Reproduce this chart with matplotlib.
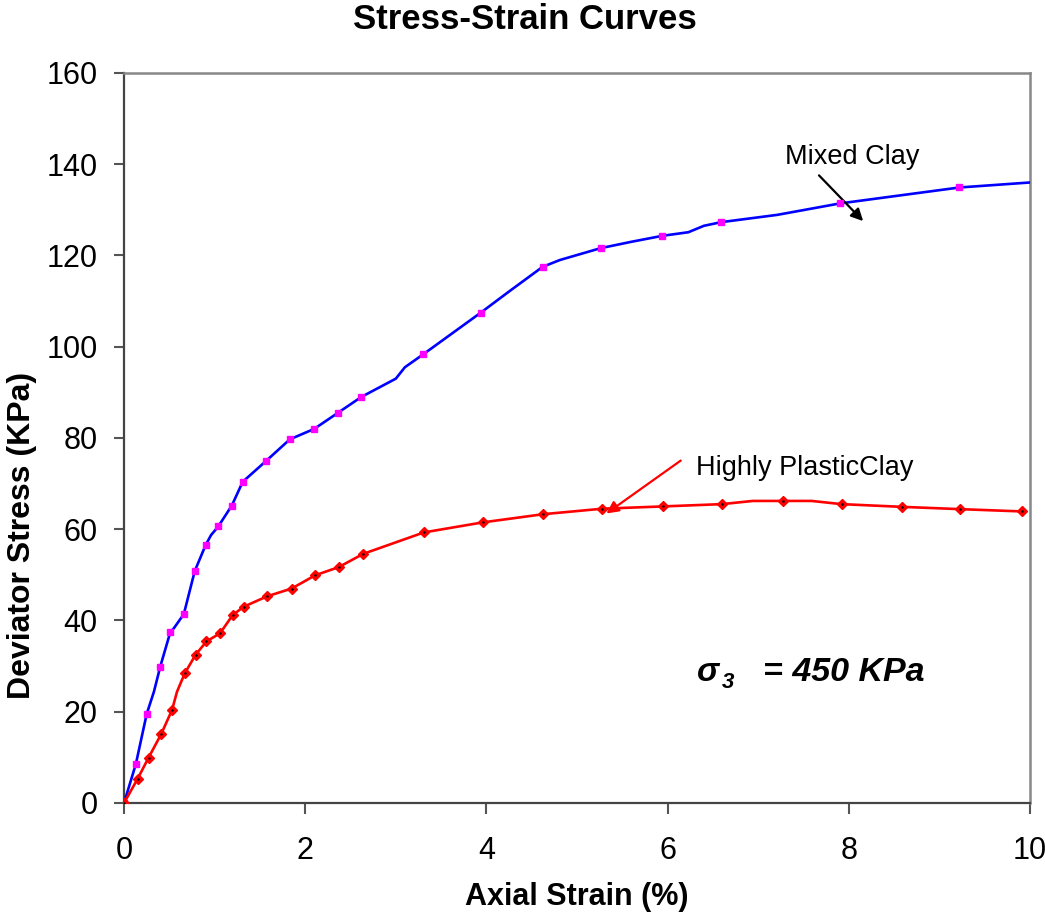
import matplotlib
matplotlib.use("Agg")
import matplotlib.pyplot as plt

plt.rcParams['font.family'] = ['Liberation Sans', 'DejaVu Sans']

# Mixed clay: line vertices and the marked readings
mixed_strain = [0, 0.13, 0.25, 0.33, 0.40, 0.51, 0.55, 0.66, 0.78, 0.90, 0.96, 1.04, 1.19,
                1.31, 1.57, 1.83, 2.10, 2.36, 2.62, 3.0, 3.10, 3.30, 3.94, 4.27, 4.62, 4.81,
                5.26, 5.60, 5.94, 6.23, 6.40, 6.59, 7.21, 7.90, 9.22, 10.0]
mixed_stress = [0, 8.5, 19.5, 24.4, 29.9, 37.4, 38.3, 41.4, 50.8, 56.5, 58.7, 60.6, 65.2,
                70.4, 75.0, 79.7, 82.0, 85.5, 89.0, 93.0, 95.5, 98.3, 107.5, 112.4, 117.5, 119.0,
                121.6, 123.0, 124.3, 125.1, 126.5, 127.3, 128.9, 131.4, 134.9, 136.0]
mixed_mark_strain = [0, 0.13, 0.25, 0.40, 0.51, 0.66, 0.78, 0.90, 1.04, 1.19, 1.31, 1.57,
                     1.83, 2.10, 2.36, 2.62, 3.30, 3.94, 4.62, 5.26, 5.94, 6.59, 7.90, 9.22]
mixed_mark_stress = [0, 8.5, 19.5, 29.9, 37.4, 41.4, 50.8, 56.5, 60.6, 65.2, 70.4, 75.0,
                     79.7, 82.0, 85.5, 89.0, 98.3, 107.5, 117.5, 121.6, 124.3, 127.3, 131.4, 134.9]

# Highly plastic clay
plastic_strain = [0, 0.15, 0.27, 0.41, 0.53, 0.585, 0.67, 0.79, 0.91, 1.06, 1.20, 1.32, 1.58,
                  1.85, 2.11, 2.37, 2.64, 3.31, 3.96, 4.63, 5.28, 5.95, 6.60, 6.94, 7.27,
                  7.59, 7.92, 8.59, 9.23, 9.91]
plastic_stress = [0, 5.3, 9.9, 15.1, 20.4, 24.4, 28.4, 32.5, 35.4, 37.2, 41.2, 43.0, 45.3,
                  47.0, 49.9, 51.7, 54.6, 59.3, 61.5, 63.3, 64.5, 65.0, 65.5, 66.2, 66.2,
                  66.2, 65.5, 64.9, 64.4, 63.9]
plastic_mark_strain = [s for s in plastic_strain if s not in (0.585, 6.94, 7.59)]
plastic_mark_stress = [v for s, v in zip(plastic_strain, plastic_stress) if s not in (0.585, 6.94, 7.59)]

fig = plt.figure(figsize=(10.45, 9.18), dpi=100)
ax = fig.add_axes([0.1187, 0.1253, 0.8669, 0.7952])

ax.plot(mixed_strain, mixed_stress, color='#0000ff', lw=1.9, zorder=3)
ax.plot(mixed_mark_strain, mixed_mark_stress, ls='none', marker='s', ms=4,
        color='#ff00ff', mec='#ff00ff', zorder=4)
ax.plot(plastic_strain, plastic_stress, color='#ff0000', lw=1.9, zorder=3)
ax.plot(plastic_mark_strain, plastic_mark_stress, ls='none', marker='D', ms=5.5,
        color='#ff0000', zorder=4)
ax.plot(plastic_mark_strain, plastic_mark_stress, ls='none', marker='.', ms=1.5,
        color='black', zorder=5)

ax.set_xlim(0, 10)
ax.set_ylim(0, 160)
ax.set_xticks(range(0, 11, 2))
ax.set_yticks(range(0, 161, 20))
ax.tick_params(direction='out', labelsize=22, width=1.5, color='#555555')
ax.tick_params(axis='x', length=8, pad=16)
ax.tick_params(axis='y', length=7, pad=12)

for side in ['left', 'bottom']:
    ax.spines[side].set_color('#444444')
    ax.spines[side].set_linewidth(1.6)
for side in ['top', 'right']:
    ax.spines[side].set_color('#888888')
    ax.spines[side].set_linewidth(1.8)

ax.set_xlabel('Axial Strain (%)', fontsize=22, fontweight='bold')
ax.xaxis.set_label_coords(0.5, -0.108)
ax.set_ylabel('Deviator Stress (KPa)', fontsize=23, fontweight='bold')
ax.yaxis.set_label_coords(-0.096, 0.366)
fig.suptitle('Stress-Strain Curves', fontsize=25, fontweight='bold', x=0.502, y=0.997)

ax.annotate('', xy=(8.18, 127.1), xytext=(7.65, 138.0),
            arrowprops=dict(arrowstyle='-|>', color='black', lw=1.6, mutation_scale=18))
ax.text(7.30, 141.5, 'Mixed Clay', fontsize=19.5, va='center', ha='left')

ax.annotate('', xy=(5.30, 63.1), xytext=(6.17, 75.4),
            arrowprops=dict(arrowstyle='-|>', color='red', lw=1.6, mutation_scale=18))
ax.text(6.31, 73.4, 'Highly PlasticClay', fontsize=19.5, va='center', ha='left')

ax.text(6.32, 28.5, '\u03c3', fontsize=24, fontweight='bold', style='italic', va='center')
ax.text(6.60, 26.3, '3', fontsize=16, fontweight='bold', style='italic', va='center')
ax.text(7.05, 28.5, '= 450 KPa', fontsize=24.5, fontweight='bold', style='italic', va='center')

fig.savefig('out.png', dpi=100)
